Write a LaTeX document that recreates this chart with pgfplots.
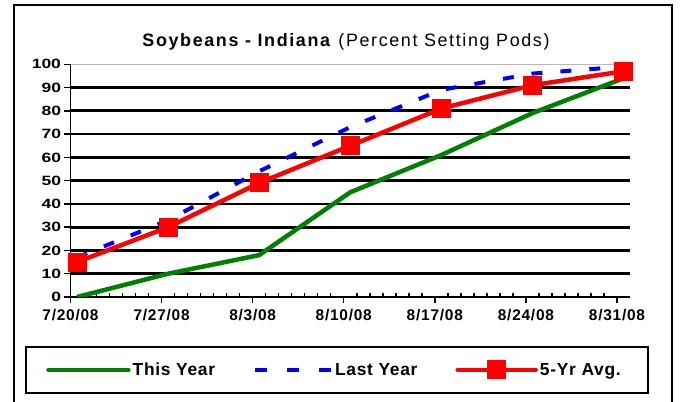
\documentclass[border=0pt]{standalone}
\usepackage{fontspec}
\setmainfont{Liberation Sans}
\newfontfamily\yfont[FakeStretch=1.3]{Liberation Sans}
\newfontfamily\xfont[LetterSpace=5]{Liberation Sans}
\newfontfamily\tfont[LetterSpace=9]{Liberation Sans}
\newfontfamily\lfont[LetterSpace=4]{Liberation Sans}
\usepackage{pgfplots}
\pgfplotsset{compat=1.18}
\definecolor{xlgreen}{RGB}{0,128,0}
\definecolor{xlblue}{RGB}{0,0,255}
\definecolor{xlred}{RGB}{255,0,0}
\pgfplotsset{
  greenleg/.style={legend image code/.code={\draw[##1, line cap=round] (0bp,0bp) -- (80bp,0bp);}},
  blueleg/.style={legend image code/.code={\draw[##1, dash pattern=on 12bp off 20bp] (0bp,0bp) -- (76bp,0bp);}},
  redleg/.style={legend image code/.code={\draw[##1, mark repeat=2, mark phase=2, line cap=round] plot coordinates {(0bp,0bp) (39bp,0bp) (78bp,0bp)};}},
}
\begin{document}
\begin{tikzpicture}
\useasboundingbox (0,0) rectangle (680bp,402bp);
% outer chart frame
\draw[black, line width=1.2bp] (14bp,-5bp) -- (14bp,397bp) -- (672bp,397bp) -- (672bp,-5bp);
% legend frame
\draw[black, line width=1.2bp] (26bp,9bp) rectangle (648bp,55bp);
% title
\node[font=\tfont\fontsize{18}{18}\selectfont] at (346bp,360bp) {\textbf{Soybeans - Indiana} (Percent Setting Pods)};
\begin{axis}[
  at={(70.5bp,105bp)}, anchor=south west,
  scale only axis, width=559.5bp, height=232.7bp,
  xmin=0, xmax=43, ymin=0, ymax=100,
  axis x line*=bottom, axis y line*=left,
  axis line style={line width=1.8bp, black, -},
  xtick={0,7,...,42},
  xticklabels={7/20/08,7/27/08,8/3/08,8/10/08,8/17/08,8/24/08,8/31/08},
  minor x tick num=6,
  ytick={0,10,...,90},
  extra y ticks={100},
  extra y tick style={grid style={gray!55, line width=0.9bp}},
  ymajorgrids, grid style={line width=2.7bp, black},
  tick align=outside,
  major tick length=6bp, minor tick length=4bp,
  tick style={line width=1.5bp, black},
  every minor tick/.append style={yshift=4bp},
  /pgf/number format/assume math mode=true,
  xticklabel style={font=\xfont\fontsize{15.5}{15.5}\selectfont\bfseries, yshift=-3bp},
  yticklabel style={font=\yfont\fontsize{13.5}{13.5}\selectfont\bfseries},
  legend columns=3,
  legend style={draw=none, fill=none, at={(-0.0438,-0.3133)}, anchor=west,
    inner sep=0pt, font=\lfont\fontsize{17.5}{17.5}\selectfont\bfseries,
    /tikz/every even column/.append style={column sep=36bp}},
  legend cell align=left,
]
\addplot[xlgreen, line width=4.5bp, line join=round, greenleg]
  coordinates {(0.5,0) (7.5,10) (14.5,18) (21.5,45) (28.5,61) (35.5,79) (42.5,94)};
\addlegendentry{This Year}
\addplot[xlblue, line width=4bp, dash pattern=on 11bp off 18bp, blueleg]
  coordinates {(0.5,17) (7.5,33) (14.5,54) (21.5,73) (28.5,89) (35.5,96) (42.5,99)};
\addlegendentry{Last Year}
\addplot[xlred, line width=4.5bp, line join=round, mark=square*, mark size=9bp,
  mark options={solid, fill=xlred, draw=xlred, line width=0pt}, redleg]
  coordinates {(0.5,15) (7.5,30) (14.5,49) (21.5,65) (28.5,81) (35.5,91) (42.5,97)};
\addlegendentry{5-Yr Avg.}
\end{axis}
\end{tikzpicture}
\end{document}
